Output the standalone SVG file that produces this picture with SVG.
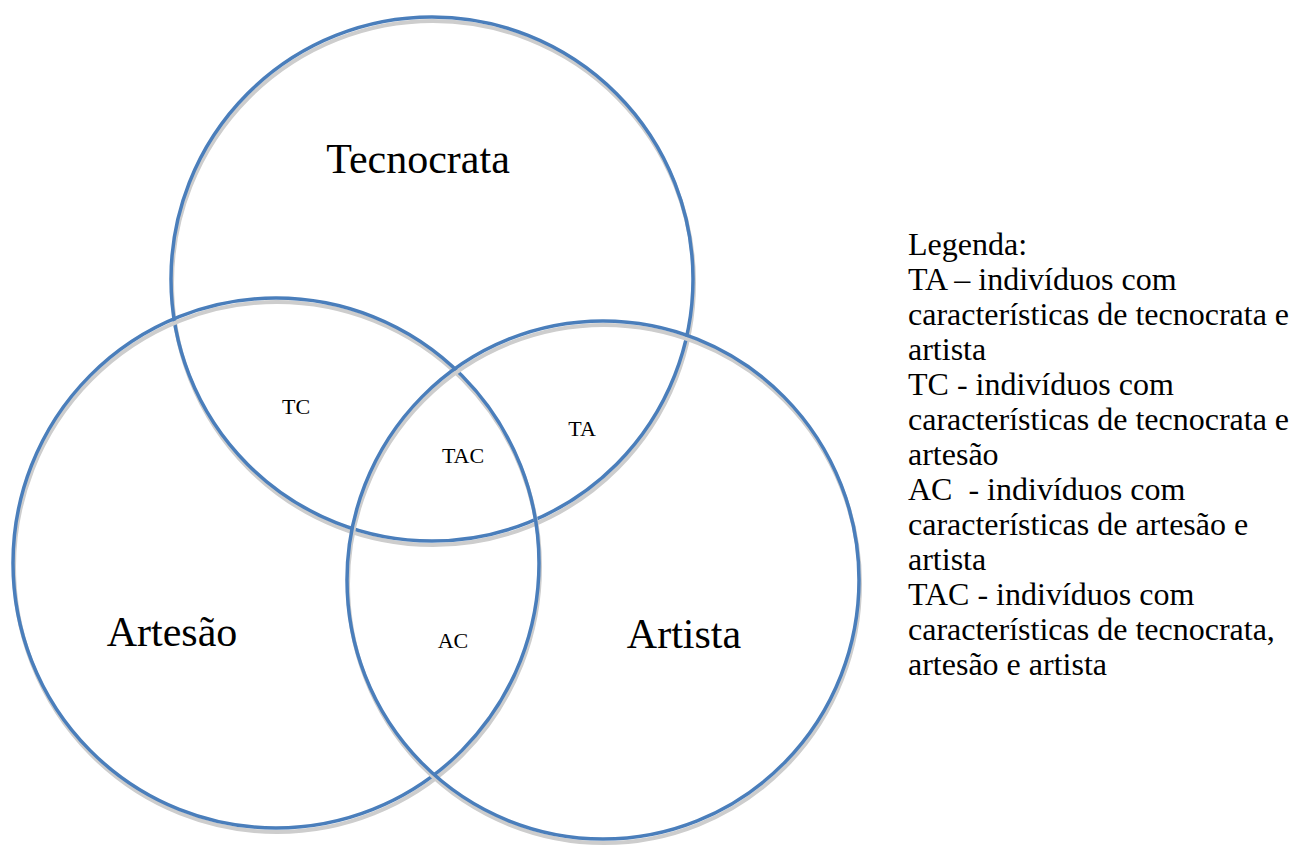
<svg xmlns="http://www.w3.org/2000/svg" width="1291" height="849" viewBox="0 0 1291 849">
  <style>
    .shadow { fill: none; stroke: #cdcdcd; stroke-width: 4; }
    .ring { fill: none; stroke: #4a7ebb; stroke-width: 3.5; }
    .big { font-family: "Liberation Serif", "Times New Roman", serif; font-size: 42px; fill: #000; text-anchor: middle; }
    .small { font-family: "Liberation Serif", "Times New Roman", serif; font-size: 22px; fill: #000; text-anchor: middle; }
    .legend { font-family: "Liberation Serif", "Times New Roman", serif; font-size: 32px; fill: #000; }
  </style>
  <rect width="1291" height="849" fill="#ffffff"/>

  <!-- Set circles: each has a soft grey drop outline under the blue ring -->
  <g id="tecnocrata">
    <ellipse class="shadow" cx="433" cy="283" rx="261" ry="262"/>
    <ellipse class="ring" cx="432" cy="279" rx="261" ry="262"/>
    <text class="big" x="418" y="173">Tecnocrata</text>
  </g>
  <g id="artesao">
    <ellipse class="shadow" cx="277" cy="567" rx="263" ry="265"/>
    <ellipse class="ring" cx="276" cy="563" rx="263" ry="265"/>
    <text class="big" x="172" y="646">Artesão</text>
  </g>
  <g id="artista">
    <ellipse class="shadow" cx="604" cy="584" rx="256" ry="259"/>
    <ellipse class="ring" cx="603" cy="580" rx="256" ry="259"/>
    <text class="big" x="684" y="648">Artista</text>
  </g>

  <!-- Intersection labels -->
  <g id="tc"><text class="small" x="296" y="414">TC</text></g>
  <g id="ta"><text class="small" x="582" y="436">TA</text></g>
  <g id="tac"><text class="small" x="463" y="463">TAC</text></g>
  <g id="ac"><text class="small" x="453" y="648">AC</text></g>

  <g id="connectors"/>

  <!-- Legend -->
  <g id="legenda">
    <text class="legend" x="908" y="255">Legenda:</text>
    <text class="legend" x="908" y="290">TA – indivíduos com</text>
    <text class="legend" x="908" y="325">características de tecnocrata e</text>
    <text class="legend" x="908" y="360">artista</text>
    <text class="legend" x="908" y="395">TC - indivíduos com</text>
    <text class="legend" x="908" y="430">características de tecnocrata e</text>
    <text class="legend" x="908" y="465">artesão</text>
    <text class="legend" x="908" y="500" xml:space="preserve">AC  - indivíduos com</text>
    <text class="legend" x="908" y="535">características de artesão e</text>
    <text class="legend" x="908" y="570">artista</text>
    <text class="legend" x="908" y="605">TAC - indivíduos com</text>
    <text class="legend" x="908" y="640">características de tecnocrata,</text>
    <text class="legend" x="908" y="675">artesão e artista</text>
  </g>
</svg>
